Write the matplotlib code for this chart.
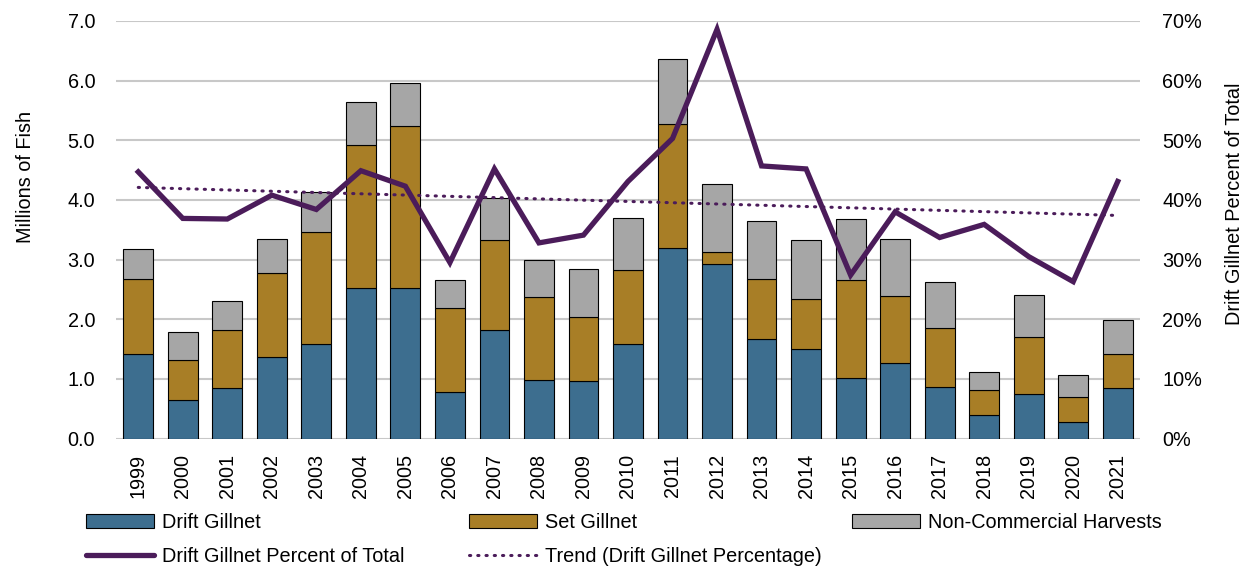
import numpy as np
import matplotlib
matplotlib.use("Agg")
import matplotlib.pyplot as plt
from matplotlib.patches import Patch
from matplotlib.lines import Line2D

plt.rcParams['font.family'] = ['Liberation Sans', 'DejaVu Sans']

years = ['1999', '2000', '2001', '2002', '2003', '2004', '2005', '2006', '2007', '2008', '2009',
         '2010', '2011', '2012', '2013', '2014', '2015', '2016', '2017', '2018', '2019', '2020', '2021']
drift_gillnet = [1.41, 0.65, 0.84, 1.36, 1.59, 2.53, 2.52, 0.78, 1.82, 0.98, 0.96,
                 1.58, 3.20, 2.92, 1.66, 1.50, 1.01, 1.26, 0.87, 0.39, 0.74, 0.27, 0.84]
set_gillnet = [1.26, 0.67, 0.98, 1.41, 1.88, 2.39, 2.72, 1.41, 1.50, 1.40, 1.08,
               1.25, 2.07, 0.21, 1.02, 0.84, 1.64, 1.13, 0.98, 0.42, 0.97, 0.42, 0.57]
non_commercial = [0.50, 0.46, 0.48, 0.58, 0.67, 0.72, 0.72, 0.46, 0.72, 0.62, 0.80,
                  0.86, 1.09, 1.14, 0.96, 0.99, 1.03, 0.95, 0.77, 0.30, 0.70, 0.38, 0.57]
drift_pct = [44.7, 36.9, 36.8, 40.8, 38.4, 44.9, 42.3, 29.5, 45.2, 32.8, 34.1,
             43.1, 50.3, 68.6, 45.7, 45.2, 27.4, 38.0, 33.7, 35.9, 30.5, 26.3, 43.1]

c_drift = '#3D6E8F'
c_set = '#A87E26'
c_non = '#A6A6A6'
c_line = '#4B1C5A'
c_grid = '#C8C8C8'
FS = 14.3

W, H = 1247, 568
fig = plt.figure(figsize=(W / 100, H / 100), dpi=100)
ax_l, ax_r, ax_t, ax_b = 116, 1140, 21, 438.5
ax = fig.add_axes([ax_l / W, 1 - ax_b / H, (ax_r - ax_l) / W, (ax_b - ax_t) / H])

x = np.arange(len(years))
d = np.array(drift_gillnet)
s = np.array(set_gillnet)
n = np.array(non_commercial)
bw = 0.67
ax.bar(x, d, bw, color=c_drift, edgecolor='black', linewidth=0.8, zorder=2)
ax.bar(x, s, bw, bottom=d, color=c_set, edgecolor='black', linewidth=0.8, zorder=2)
ax.bar(x, n, bw, bottom=d + s, color=c_non, edgecolor='black', linewidth=0.8, zorder=2)

ax.set_xlim(-0.5, len(years) - 0.5)
ax.set_ylim(0, 7)
ax.set_yticks(np.arange(0, 7.01, 1))
ax.set_yticklabels([f'{v:.1f}' for v in np.arange(0, 7.01, 1)], fontsize=FS)
ax.set_xticks(x)
ax.set_xticklabels(years, rotation=90, fontsize=FS)
ax.tick_params(axis='both', length=0)
ax.tick_params(axis='y', pad=15)
ax.tick_params(axis='x', pad=11)
ax.grid(axis='y', color=c_grid, linewidth=1.5, zorder=0)
ax.set_axisbelow(True)
for sp in ax.spines.values():
    sp.set_visible(False)
ax.set_ylabel('Millions of Fish', fontsize=FS)
ax.yaxis.set_label_coords((35 - ax_l) / (ax_r - ax_l), (ax_b - 177) / (ax_b - ax_t))

ax2 = ax.twinx()
ax2.set_ylim(0, 70)
ax2.set_yticks(np.arange(0, 71, 10))
ax2.set_yticklabels([f'{int(v)}%' for v in np.arange(0, 71, 10)], fontsize=FS)
ax2.tick_params(axis='y', length=0, pad=16)
for sp in ax2.spines.values():
    sp.set_visible(False)
ax2.plot(x, drift_pct, color=c_line, linewidth=3.8, solid_joinstyle='miter', zorder=5)
coef = np.polyfit(x, drift_pct, 1)
trend = np.polyval(coef, x)
ax2.plot(x, trend, color=c_line, linewidth=2.2, linestyle=(0, (0.4, 2.3)),
         dash_capstyle='round', zorder=4)
ax2.set_ylabel('Drift Gillnet Percent of Total', fontsize=FS, rotation=90)
ax2.yaxis.set_label_coords((1225 - ax_l) / (ax_r - ax_l), (ax_b - 204) / (ax_b - ax_t))

h_drift = Patch(facecolor=c_drift, edgecolor='black', linewidth=0.8)
h_set = Patch(facecolor=c_set, edgecolor='black', linewidth=0.8)
h_non = Patch(facecolor=c_non, edgecolor='black', linewidth=0.8)
h_line = Line2D([], [], color=c_line, linewidth=3.8, solid_capstyle='round')
h_trend = Line2D([], [], color=c_line, linewidth=2.2, linestyle=(0, (0.4, 2.3)),
                 dash_capstyle='round')

common = dict(loc='upper left', frameon=False, fontsize=FS, borderpad=0, borderaxespad=0,
              handlelength=3.42, handletextpad=0.4, handleheight=0.65, labelspacing=0.75)
top = 1 - 513 / H
fig.legend([h_drift, h_line], ['Drift Gillnet', 'Drift Gillnet Percent of Total'],
           bbox_to_anchor=(86 / W, top), **common)
fig.legend([h_set, h_trend], ['Set Gillnet', 'Trend (Drift Gillnet Percentage)'],
           bbox_to_anchor=(469 / W, top), **common)
fig.legend([h_non], ['Non-Commercial Harvests'],
           bbox_to_anchor=(852 / W, top), **common)

fig.savefig('out.png', dpi=100)
